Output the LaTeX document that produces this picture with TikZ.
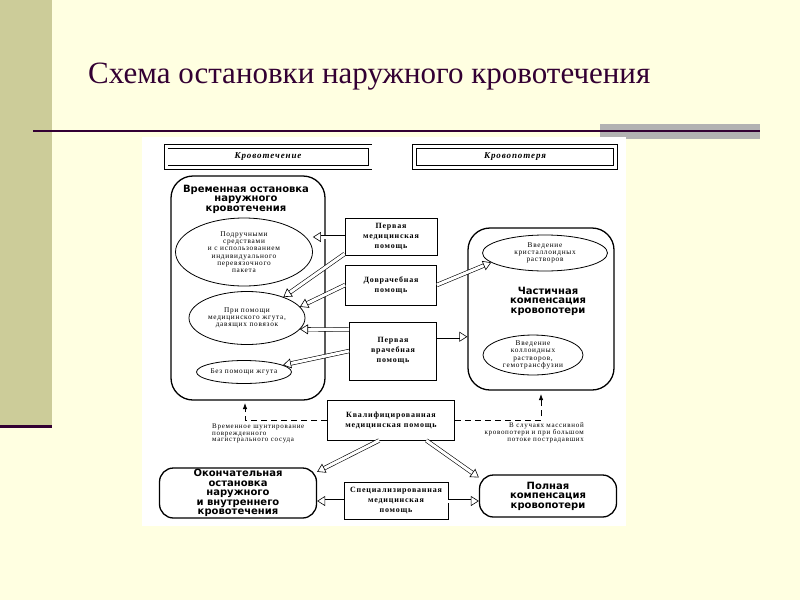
\documentclass[tikz,border=0pt]{standalone}
\usepackage{fontspec}
\setmainfont{Liberation Serif}
\newfontfamily\headfont{DejaVu Sans}
\newfontfamily\scanfont[LetterSpace=10]{Liberation Serif}
\usetikzlibrary{arrows.meta,shapes.geometric}
\definecolor{slideyellow}{HTML}{FFFFE1}
\definecolor{slideolive}{HTML}{CCCC99}
\definecolor{slideplum}{HTML}{330033}
\definecolor{slidegray}{HTML}{B2B2B2}

\begin{document}
\begin{tikzpicture}[x=1pt,y=-1pt,
  headtext/.style={font=\headfont\bfseries\fontsize{10}{9.5}\selectfont, align=center},
  hdr/.style={draw, double, double distance=3pt, line width=0.6pt, inner sep=0,
    font=\scanfont\bfseries\itshape\fontsize{9}{10}\selectfont},
  bigbox/.style={draw, line width=1.3pt, rounded corners=22, inner sep=0},
  oval/.style={draw, ellipse, inner sep=0, line width=0.8pt, align=center,
    font=\scanfont\fontsize{7.3}{7.3}\selectfont},
  aidbox/.style={draw, line width=0.8pt, inner sep=0, align=center,
    font=\scanfont\bfseries\fontsize{8}{10}\selectfont},
  note/.style={inner sep=0, font=\scanfont\fontsize{7}{6.6}\selectfont},
  dashline/.style={dashed, dash pattern=on 6pt off 4pt, line width=0.8pt,
    -{Latex[length=6pt,width=4.5pt]}},
  hollow/.style={line width=0.6pt, double, double distance=3pt,
    -{Triangle[open,length=8pt,width=10pt]}}
]

% слайд
\fill[slideyellow] (0,0) rectangle (800,600);
\fill[slideolive] (0,0) rectangle (52,425);
\fill[slideplum] (0,425) rectangle (52,428);
\fill[slidegray] (600,124) rectangle (760,139);
\fill[slideplum] (33,129.5) rectangle (760,132);
\node[anchor=west, text=slideplum, font=\fontsize{31}{34}\selectfont, inner sep=0]
  (title) at (88,77) {Схема остановки наружного кровотечения};
\fill[white] (142,137) rectangle (626,526);

% заголовки
\node[hdr, minimum width=204, minimum height=21] (bleed) at (268,157) {Кровотечение};
\node[hdr, minimum width=201, minimum height=21] (bloss) at (515,157) {Кровопотеря};

% временная остановка
\node[bigbox, minimum width=154, minimum height=224] (tempstop) at (248,288) {};
\node[headtext, anchor=north, inner sep=0] (temptitle) at (246,185)
  {Временная остановка\\наружного\\кровотечения};
\node[oval, minimum width=137, minimum height=68] (improv) at (244,252)
  {Подручными\\средствами\\и с использованием\\индивидуального\\перевязочного\\пакета};
\node[oval, minimum width=116, minimum height=53] (tourniq) at (247,318)
  {При помощи\\медицинского жгута,\\давящих повязок};
\node[oval, minimum width=95, minimum height=23] (notourn) at (244,372) {Без помощи жгута};

% виды помощи
\node[aidbox, minimum width=92, minimum height=37] (firstaid) at (391,237) {Первая\\медицинская\\помощь};
\node[aidbox, minimum width=91, minimum height=40] (prehosp) at (391,285) {Доврачебная\\помощь};
\node[aidbox, minimum width=87, minimum height=58] (firstdoc) at (393,351) {Первая\\врачебная\\помощь};
\node[aidbox, minimum width=127, minimum height=40] (qualaid) at (391,420) {Квалифицированная\\медицинская помощь};
\node[aidbox, minimum width=104, minimum height=37] (specaid) at (396,501) {Специализированная\\медицинская\\помощь};

% частичная компенсация
\node[bigbox, minimum width=146, minimum height=162] (partcomp) at (541,309) {};
\node[headtext] (parttitle) at (548,301) {Частичная\\компенсация\\кровопотери};
\node[oval, minimum width=125, minimum height=36] (crystal) at (545,253)
  {Введение\\кристаллоидных\\растворов};
\node[oval, minimum width=100, minimum height=36] (colloid) at (533,355)
  {Введение\\коллоидных\\растворов,\\гемотрансфузии};

% окончательная остановка, полная компенсация
\node[bigbox, headtext, rounded corners=14, minimum width=157, minimum height=50] (finalstop) at (238,493)
  {Окончательная\\остановка\\наружного\\и внутреннего\\кровотечения};
\node[bigbox, headtext, rounded corners=14, minimum width=137, minimum height=42] (fullcomp) at (548,496)
  {Полная\\компенсация\\кровопотери};

% примечания
\node[note, anchor=north west, align=left] (shuntnote) at (212,424)
  {Временное шунтирование\\поврежденного\\магистрального сосуда};
\node[note, anchor=north east, align=right] (massnote) at (584,423)
  {В случаях массивной\\кровопотери и при большом\\потоке пострадавших};

% пунктир
\coordinate (shunttip) at (245,403);
\coordinate (masstip) at (541,394);
\draw[dashline] (qualaid.west) -| (shunttip);
\draw[dashline] (qualaid.east) -| (masstip);

% стрелки
\draw[hollow] (firstaid.west) -- (firstaid.west -| improv.east);
\draw[hollow] (firstaid.-160) -- (tourniq.30);
\draw[hollow] (prehosp.west) -- (tourniq.12);
\draw[hollow] (prehosp.east) -- (crystal.190);
\draw[hollow] ([yshift=-8pt]firstdoc.north west) -- (tourniq.-12);
\draw[hollow] (firstdoc.west) -- (notourn.10);
\draw[hollow] (firstdoc.18) -- (firstdoc.18 -| partcomp.west);
\draw[hollow] (qualaid.-120) -- (finalstop.15);
\draw[hollow] (qualaid.-30) -- (fullcomp.165);
\draw[hollow] (specaid.west) -- (specaid.west -| finalstop.east);
\draw[hollow] (specaid.east) -- (specaid.east -| fullcomp.west);
\end{tikzpicture}
\end{document}
